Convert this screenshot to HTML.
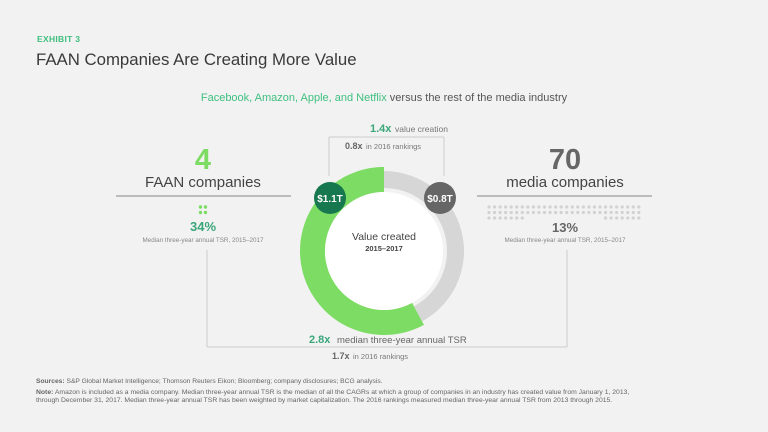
<!DOCTYPE html>
<html><head><meta charset="utf-8">
<style>
body{margin:0;background:#f2f2f2;}
#root{position:relative;width:768px;height:432px;background:#f2f2f2;font-family:"Liberation Sans",sans-serif;overflow:hidden;}
.t{position:absolute;white-space:nowrap;}
</style></head>
<body>
<div id="root">
<div class="t" style="left:37px;top:34px;font-size:8.5px;font-weight:bold;color:#3fbf7f;letter-spacing:.3px">EXHIBIT 3</div>
<div class="t" style="left:36px;top:50px;font-size:16.8px;color:#3a3a3a">FAAN Companies Are Creating More Value</div>
<div class="t" style="left:0;width:768px;text-align:center;top:92px;font-size:11px;color:#555"><span style="color:#3fbf7f">Facebook, Amazon, Apple, and Netflix</span> versus the rest of the media industry</div>
<svg id="chart" width="768" height="432" style="position:absolute;left:0;top:0"></svg>
<div class="t" style="left:36px;top:378px;font-size:6.7px;color:#666"><b>Sources:</b> S&amp;P Global Market Intelligence; Thomson Reuters Eikon; Bloomberg; company disclosures; BCG analysis.</div>
<div class="t" style="left:36px;top:389px;font-size:6.8px;color:#666;line-height:8px"><b>Note:</b> Amazon is included as a media company. Median three-year annual TSR is the median of all the CAGRs at which a group of companies in an industry has created value from January 1, 2013,<br>through December 31, 2017. Median three-year annual TSR has been weighted by market capitalization. The 2016 rankings measured median three-year annual TSR from 2013 through 2015.</div>
</div>
<script>
const groups = ["FAAN", "Media"];
const valueCreated = [1.1, 0.8];
const valueLabels = ["$1.1T", "$0.8T"];
const companyCounts = [4, 70];
const tsr = ["34%", "13%"];

const NS = "http://www.w3.org/2000/svg";
const svg = document.getElementById("chart");
function mk(tag, attrs, parent) {
  const e = document.createElementNS(NS, tag);
  for (const k in attrs) e.setAttribute(k, attrs[k]);
  (parent || svg).appendChild(e);
  return e;
}
function txt(x, y, s, size, fill, weight, anchor) {
  const e = mk("text", {x: x, y: y, "font-size": size, fill: fill, "font-weight": weight || "normal", "text-anchor": anchor || "middle", "font-family": "Liberation Sans, sans-serif"});
  e.textContent = s;
  return e;
}
const cx = 384, cy = 251;
function pt(r, a) { return [cx + r * Math.sin(a), cy - r * Math.cos(a)]; }
function arc(r0, r1, a0, a1, fill) {
  const large = (a1 - a0) > Math.PI ? 1 : 0;
  const [x0, y0] = pt(r1, a0), [x1, y1] = pt(r1, a1), [x2, y2] = pt(r0, a1), [x3, y3] = pt(r0, a0);
  return mk("path", {d: `M${x0},${y0} A${r1},${r1} 0 ${large} 1 ${x1},${y1} L${x2},${y2} A${r0},${r0} 0 ${large} 0 ${x3},${y3} Z`, fill: fill});
}
const total = valueCreated[0] + valueCreated[1];
const aFaan = valueCreated[0] / total * 2 * Math.PI;
const g = arc(63, 80, 0, 2 * Math.PI - aFaan, "#d6d6d6");


const gr = arc(59, 84, 2 * Math.PI - aFaan, 2 * Math.PI - 0.0001, "#7ddc63");


const inner = mk("circle", {cx: cx, cy: cy, r: 59, fill: "#fff"});


txt(cx, 240, "Value created", 10.5, "#444");
txt(cx, 251, "2015–2017", 7.5, "#444", "bold");

const bubbleColors = ["#17784f", "#666"];
const bubbleX = [330, 440];
for (let i = 0; i < groups.length; i++) {
  const c = mk("circle", {cx: bubbleX[i], cy: 198, r: 16, fill: bubbleColors[i]});
  
  
  const t = txt(bubbleX[i], 202, valueLabels[i], 10, "#fff", "bold");
  
  
}

const line = (x1, y1, x2, y2, c) => mk("line", {x1, y1, x2, y2, stroke: c || "#ccc", "stroke-width": 1});
line(329, 137, 444, 137); line(329, 137, 329, 176); line(444, 137, 444, 176);
line(207, 250, 207, 347); line(567, 250, 567, 347); line(207, 347, 567, 347);
line(116, 196, 291, 196, "#888"); line(477, 196, 652, 196, "#888");

txt(370, 132, "1.4x", 11, "#3aa67a", "bold", "start");
txt(395, 132, "value creation", 8.5, "#777", "normal", "start");
txt(345, 149, "0.8x", 9, "#666", "bold", "start");
txt(366, 149, "in 2016 rankings", 7.5, "#777", "normal", "start");
txt(309, 343, "2.8x", 11, "#3aa67a", "bold", "start");
txt(337, 343, "median three-year annual TSR", 9.5, "#666", "normal", "start");
txt(332, 359, "1.7x", 9, "#666", "bold", "start");
txt(353, 359, "in 2016 rankings", 7.5, "#777", "normal", "start");

const lx = 203, rx = 565;
let n1 = txt(lx, 169, String(companyCounts[0]), 29, "#7ddc63", "bold");
 
txt(lx, 187, "FAAN companies", 15, "#444");
let n2 = txt(rx, 169, String(companyCounts[1]), 29, "#666", "bold");
 
txt(rx, 187, "media companies", 15, "#444");

for (let i = 0; i < companyCounts[0]; i++) {
  const d = mk("circle", {cx: lx - 2.5 + (i % 2) * 5, cy: 207 + Math.floor(i / 2) * 5.5, r: 1.7, fill: "#7ddc63"});
   
}
const perRow = 28;
const fullRows = Math.floor(companyCounts[1] / perRow);
const rem = companyCounts[1] - fullRows * perRow;
const dotPos = [];
for (let r = 0; r < fullRows; r++) for (let c = 0; c < perRow; c++) dotPos.push([r, c]);
for (let k = 0; k < rem; k++) dotPos.push([fullRows, k < Math.ceil(rem / 2) ? k : perRow - (rem - k)]);
dotPos.forEach(([r, c]) => {
  const d = mk("circle", {cx: 489 + c * 5.55, cy: 207 + r * 5.5, r: 1.6, fill: "#d2d2d2"});
   
});

let p1 = txt(lx, 231, tsr[0], 13, "#3aa67a", "bold");
 
txt(lx, 242, "Median three-year annual TSR, 2015–2017", 6.3, "#888");
let p2 = txt(rx, 232, tsr[1], 13, "#666", "bold");
 
txt(rx, 242, "Median three-year annual TSR, 2015–2017", 6.3, "#888");
</script>
</body></html>
